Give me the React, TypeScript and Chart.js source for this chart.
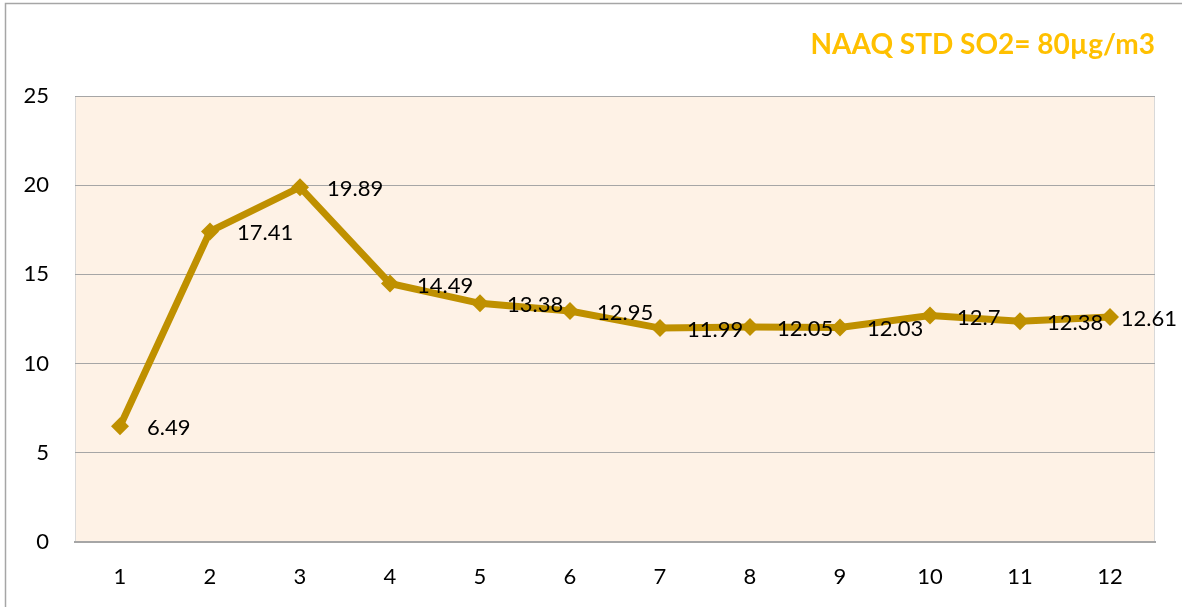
import React, { useEffect, useRef } from "react";
import { Chart, registerables } from "chart.js";

Chart.register(...registerables);

const categories = ["1", "2", "3", "4", "5", "6", "7", "8", "9", "10", "11", "12"];
const so2Values = [6.49, 17.41, 19.89, 14.49, 13.38, 12.95, 11.99, 12.05, 12.03, 12.7, 12.38, 12.61];
const valueLabels = ["6.49", "17.41", "19.89", "14.49", "13.38", "12.95", "11.99", "12.05", "12.03", "12.7", "12.38", "12.61"];
const titleText = "NAAQ STD SO2= 80µg/m3";

const FONT = "Lato, 'Open Sans', sans-serif";

const decorPlugin = {
  id: "decor",
  beforeDraw(chart: any) {
    const { ctx, chartArea } = chart;
    ctx.save();
    ctx.fillStyle = "#ffffff";
    ctx.fillRect(0, 0, chart.width, chart.height);
    ctx.fillStyle = "#FEF2E6";
    ctx.fillRect(chartArea.left, chartArea.top, chartArea.right - chartArea.left, chartArea.bottom - chartArea.top);
    ctx.strokeStyle = "#D9D9D9";
    ctx.lineWidth = 1;
    ctx.beginPath();
    ctx.moveTo(chartArea.left + 0.5, chartArea.top);
    ctx.lineTo(chartArea.left + 0.5, chartArea.bottom);
    ctx.moveTo(chartArea.right - 0.5, chartArea.top);
    ctx.lineTo(chartArea.right - 0.5, chartArea.bottom);
    ctx.stroke();
    ctx.strokeStyle = "#A6A6A6";
    ctx.lineWidth = 1.5;
    ctx.beginPath();
    ctx.moveTo(5.5, chart.height);
    ctx.lineTo(5.5, 3.5);
    ctx.lineTo(chart.width, 3.5);
    ctx.stroke();
    ctx.restore();
  },
  afterDraw(chart: any) {
    const { ctx, chartArea } = chart;
    ctx.save();
    ctx.font = `bold 28px ${FONT}`;
    ctx.fillStyle = "#FFC000";
    ctx.textAlign = "right";
    ctx.textBaseline = "middle";
    ctx.fillText(titleText, chartArea.right, 45);
    ctx.restore();
  },
  afterDatasetsDraw(chart: any) {
    const { ctx } = chart;
    const meta = chart.getDatasetMeta(0);
    ctx.save();
    ctx.font = `22px ${FONT}`;
    ctx.fillStyle = "#000000";
    ctx.textAlign = "left";
    ctx.textBaseline = "middle";
    meta.data.forEach((pt: any, i: number) => {
      const w = ctx.measureText(valueLabels[i]).width;
      let x = pt.x + 27;
      if (x + w > chart.width - 5) x = chart.width - 5 - w;
      ctx.fillText(valueLabels[i], x, pt.y + 2);
    });
    ctx.restore();
  },
};

export default function App() {
  const ref = useRef<HTMLCanvasElement | null>(null);
  useEffect(() => {
    if (!ref.current) return;
    const chart = new Chart(ref.current, {
      type: "line",
      data: {
        labels: categories,
        datasets: [
          {
            data: so2Values,
            borderColor: "#BF9000",
            backgroundColor: "#BF9000",
            borderWidth: 7,
            pointStyle: "rectRot",
            pointRadius: 9,
            pointHoverRadius: 9,
            pointBackgroundColor: "#BF9000",
            pointBorderColor: "#BF9000",
            pointBorderWidth: 0,
            tension: 0,
            clip: false as any,
          },
        ],
      },
      options: {
        animation: false,
        responsive: false,
        maintainAspectRatio: false,
        layout: { padding: { left: 0, right: 27, top: 96, bottom: 0 } },
        plugins: {
          legend: { display: false },
          tooltip: { enabled: false },
          title: { display: false },
        },
        scales: {
          x: {
            offset: true,
            grid: { display: false, drawTicks: false },
            border: { display: true, color: "#A6A6A6", width: 2 },
            ticks: {
              color: "#000000",
              font: { family: FONT, size: 22 },
              padding: 22,
              maxRotation: 0,
            },
            afterFit(scale: any) {
              scale.height = 65;
            },
          },
          y: {
            min: 0,
            max: 25,
            grid: { color: "#A6A6A6", lineWidth: 1, drawTicks: false },
            border: { display: false },
            ticks: {
              stepSize: 5,
              color: "#000000",
              font: { family: FONT, size: 22 },
              padding: 26,
            },
            afterFit(scale: any) {
              scale.width = 75;
            },
          },
        },
      },
      plugins: [decorPlugin],
    });
    return () => chart.destroy();
  }, []);
  return (
    <div style={{ position: "absolute", left: 0, top: 0, width: 1182, height: 607 }}>
      <canvas ref={ref} width={1182} height={607} style={{ display: "block" }} />
    </div>
  );
}
